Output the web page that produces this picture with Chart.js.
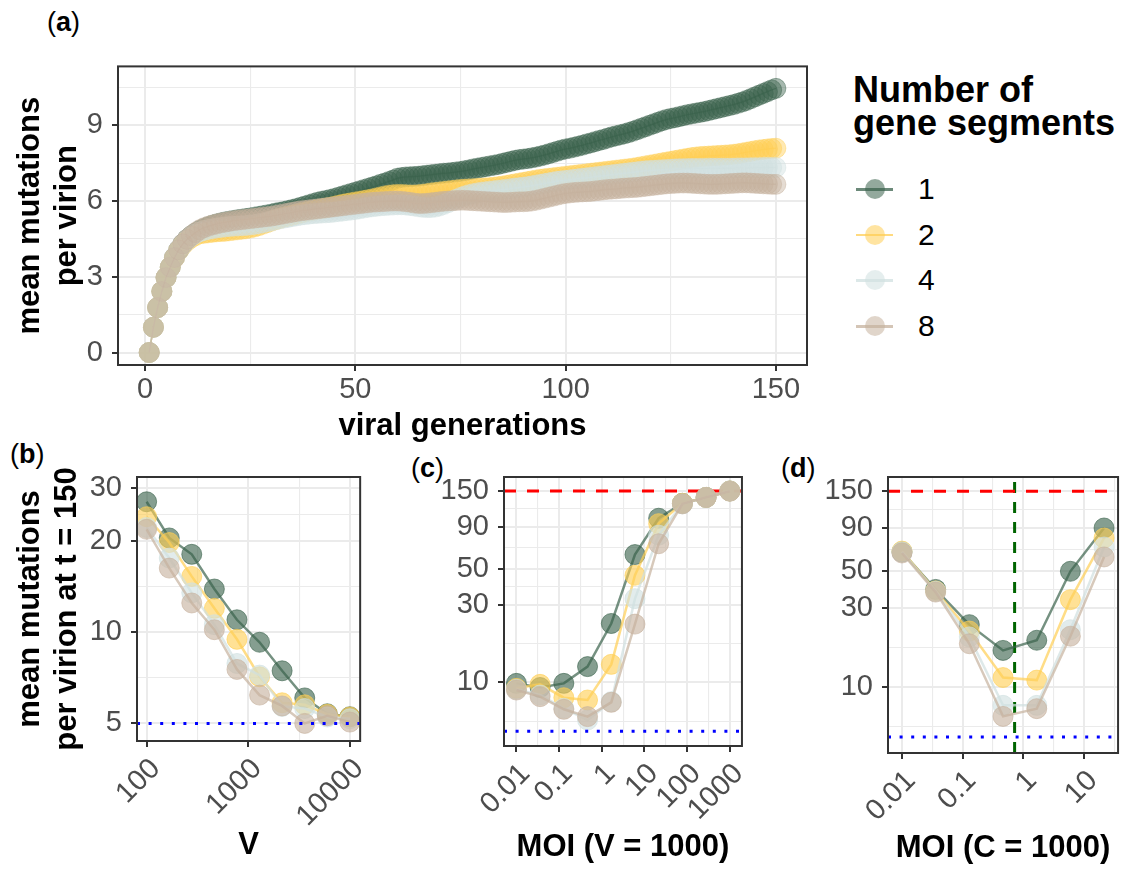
<!DOCTYPE html>
<html>
<head>
<meta charset="utf-8">
<script src="https://cdn.jsdelivr.net/npm/chart.js@4.4.1/dist/chart.umd.min.js"></script>
<style>
  html, body { margin: 0; padding: 0; background: #fff; overflow: hidden; width: 1137px; height: 869px; }
  body { position: relative; font-family: 'Liberation Sans', Arial, Helvetica, sans-serif; color: #000; }
  canvas { position: absolute; }
  .tag { position: absolute; font-size: 27px; line-height: 27px; }
  #legendTitle { position: absolute; left: 853px; top: 73px; font-size: 36px; line-height: 33px; font-weight: bold; white-space: nowrap; }
  .lrow { position: absolute; left: 856px; width: 120px; height: 30px; }
  .ldot { position: absolute; left: 9px; top: 5px; width: 20px; height: 20px; border-radius: 50%; }
  .lline { position: absolute; left: 0; top: 14px; width: 37px; height: 2.5px; }
  .ltext { position: absolute; left: 62px; top: 0; font-size: 30px; line-height: 30px; }
</style>
</head>
<body>
<div class="tag" style="left:47px;top:9px">(<b>a</b>)</div>
<div class="tag" style="left:10px;top:441px">(<b>b</b>)</div>
<div class="tag" style="left:411px;top:455px">(<b>c</b>)</div>
<div class="tag" style="left:781px;top:455px">(<b>d</b>)</div>
<div id="legendTitle">Number of<br>gene segments</div>

<canvas id="chartA" width="820" height="410" style="left:0;top:40px"></canvas>
<canvas id="chartB" width="380" height="429" style="left:0;top:440px"></canvas>
<canvas id="chartC" width="380" height="429" style="left:380px;top:440px"></canvas>
<canvas id="chartD" width="384" height="429" style="left:760px;top:440px"></canvas>

<script>
// ---- data ----
const segments = ['1', '2', '4', '8'];
const segmentColors = [[58, 98, 76], [255, 206, 84], [208, 224, 224], [198, 178, 158]];

// (a) mean mutations per virion over 150 generations
const generations = Array.from({ length: 150 }, (_, i) => i + 1);
const mutSeg1 = [
  0, 1.00, 1.78, 2.42, 2.97, 3.38, 3.76, 4.06, 4.30, 4.48,
  4.62, 4.73, 4.83, 4.91, 4.98, 5.04, 5.09, 5.13, 5.17, 5.20,
  5.23, 5.26, 5.28, 5.31, 5.33, 5.36, 5.39, 5.42, 5.45, 5.48,
  5.52, 5.55, 5.58, 5.62, 5.66, 5.70, 5.75, 5.80, 5.85, 5.90,
  5.95, 5.99, 6.02, 6.06, 6.10, 6.15, 6.20, 6.25, 6.30, 6.35,
  6.40, 6.45, 6.50, 6.55, 6.60, 6.66, 6.71, 6.77, 6.83, 6.90,
  6.93, 6.95, 6.96, 6.97, 6.98, 7.00, 7.02, 7.04, 7.06, 7.08,
  7.10, 7.11, 7.13, 7.15, 7.17, 7.20, 7.23, 7.27, 7.30, 7.33,
  7.36, 7.39, 7.42, 7.45, 7.49, 7.53, 7.57, 7.61, 7.64, 7.66,
  7.68, 7.71, 7.74, 7.78, 7.82, 7.87, 7.92, 7.97, 8.02, 8.06,
  8.09, 8.13, 8.17, 8.21, 8.26, 8.30, 8.35, 8.40, 8.44, 8.49,
  8.54, 8.58, 8.62, 8.66, 8.71, 8.76, 8.82, 8.88, 8.94, 9.00,
  9.06, 9.12, 9.18, 9.23, 9.27, 9.30, 9.34, 9.38, 9.42, 9.45,
  9.48, 9.51, 9.54, 9.58, 9.62, 9.66, 9.70, 9.74, 9.78, 9.82,
  9.87, 9.92, 9.98, 10.05, 10.12, 10.19, 10.26, 10.33, 10.40, 10.46
];
const mutSeg2 = [
  0, 1.00, 1.78, 2.42, 2.97, 3.38, 3.75, 4.04, 4.26, 4.42,
  4.54, 4.63, 4.70, 4.72, 4.74, 4.76, 4.78, 4.79, 4.80, 4.82,
  4.84, 4.86, 4.88, 4.90, 4.93, 4.97, 5.02, 5.08, 5.14, 5.20,
  5.26, 5.31, 5.36, 5.40, 5.44, 5.48, 5.52, 5.56, 5.60, 5.63,
  5.66, 5.69, 5.72, 5.75, 5.79, 5.83, 5.87, 5.90, 5.93, 5.96,
  5.99, 6.02, 6.05, 6.08, 6.12, 6.16, 6.20, 6.23, 6.25, 6.26,
  6.26, 6.25, 6.24, 6.24, 6.25, 6.27, 6.29, 6.32, 6.34, 6.36,
  6.38, 6.40, 6.42, 6.44, 6.46, 6.47, 6.48, 6.49, 6.50, 6.51,
  6.52, 6.53, 6.55, 6.57, 6.59, 6.62, 6.65, 6.68, 6.71, 6.74,
  6.77, 6.80, 6.83, 6.86, 6.88, 6.90, 6.92, 6.94, 6.96, 6.98,
  7.00, 7.02, 7.04, 7.06, 7.08, 7.10, 7.12, 7.14, 7.16, 7.18,
  7.20, 7.22, 7.24, 7.26, 7.28, 7.30, 7.33, 7.36, 7.39, 7.42,
  7.45, 7.48, 7.51, 7.54, 7.57, 7.60, 7.63, 7.66, 7.69, 7.72,
  7.74, 7.76, 7.77, 7.78, 7.79, 7.80, 7.81, 7.82, 7.83, 7.85,
  7.87, 7.90, 7.93, 7.96, 7.99, 8.02, 8.04, 8.06, 8.08, 8.09
];
const mutSeg4 = [
  0, 1.00, 1.78, 2.42, 2.97, 3.38, 3.76, 4.05, 4.28, 4.46,
  4.60, 4.70, 4.78, 4.83, 4.87, 4.90, 4.93, 4.95, 4.97, 4.99,
  5.00, 5.01, 5.02, 5.03, 5.05, 5.07, 5.10, 5.13, 5.17, 5.21,
  5.25, 5.29, 5.32, 5.35, 5.38, 5.41, 5.44, 5.46, 5.48, 5.50,
  5.51, 5.52, 5.53, 5.54, 5.56, 5.58, 5.60, 5.62, 5.64, 5.66,
  5.69, 5.72, 5.75, 5.77, 5.79, 5.81, 5.82, 5.83, 5.84, 5.85,
  5.85, 5.84, 5.82, 5.80, 5.77, 5.75, 5.74, 5.74, 5.76, 5.80,
  5.86, 5.93, 6.00, 6.07, 6.14, 6.20, 6.25, 6.29, 6.32, 6.35,
  6.37, 6.39, 6.41, 6.43, 6.45, 6.47, 6.49, 6.51, 6.53, 6.55,
  6.57, 6.60, 6.63, 6.66, 6.69, 6.72, 6.75, 6.78, 6.80, 6.82,
  6.84, 6.86, 6.88, 6.90, 6.92, 6.94, 6.96, 6.98, 7.00, 7.02,
  7.04, 7.06, 7.08, 7.10, 7.12, 7.14, 7.16, 7.18, 7.20, 7.21,
  7.22, 7.23, 7.24, 7.25, 7.26, 7.27, 7.28, 7.28, 7.29, 7.29,
  7.29, 7.29, 7.29, 7.30, 7.30, 7.30, 7.30, 7.30, 7.30, 7.30,
  7.31, 7.31, 7.31, 7.32, 7.32, 7.32, 7.33, 7.33, 7.33, 7.33
];
const mutSeg8 = [
  0, 1.00, 1.78, 2.42, 2.97, 3.38, 3.76, 4.06, 4.30, 4.48,
  4.62, 4.75, 4.86, 4.94, 5.00, 5.05, 5.09, 5.13, 5.16, 5.19,
  5.22, 5.24, 5.26, 5.28, 5.30, 5.32, 5.34, 5.36, 5.38, 5.40,
  5.43, 5.46, 5.49, 5.52, 5.55, 5.58, 5.61, 5.63, 5.65, 5.67,
  5.69, 5.71, 5.73, 5.75, 5.77, 5.79, 5.81, 5.83, 5.85, 5.87,
  5.89, 5.91, 5.93, 5.95, 5.96, 5.97, 5.98, 5.99, 6.00, 6.00,
  5.99, 5.97, 5.95, 5.92, 5.90, 5.90, 5.91, 5.93, 5.95, 5.97,
  5.99, 6.00, 6.01, 6.02, 6.03, 6.03, 6.02, 6.01, 6.00, 5.99,
  5.98, 5.97, 5.96, 5.95, 5.94, 5.94, 5.95, 5.96, 5.97, 5.97,
  5.98, 6.00, 6.03, 6.07, 6.11, 6.15, 6.19, 6.23, 6.27, 6.30,
  6.32, 6.34, 6.35, 6.36, 6.37, 6.38, 6.40, 6.42, 6.44, 6.46,
  6.47, 6.48, 6.50, 6.51, 6.52, 6.53, 6.54, 6.56, 6.58, 6.60,
  6.62, 6.64, 6.66, 6.68, 6.69, 6.70, 6.71, 6.71, 6.71, 6.70,
  6.69, 6.68, 6.67, 6.66, 6.66, 6.66, 6.67, 6.68, 6.69, 6.70,
  6.71, 6.72, 6.72, 6.71, 6.70, 6.69, 6.68, 6.67, 6.66, 6.66
];

// (b) mutations at t = 150 against population size V
const popSize = [100, 167, 278, 464, 774, 1292, 2154, 3594, 5995, 10000];
const bySizeSeg1 = [27.0, 20.5, 18.1, 13.9, 11.0, 9.27, 7.46, 6.07, 5.38, 5.26];
const bySizeSeg2 = [24.1, 19.8, 15.3, 12.0, 9.48, 7.13, 5.85, 5.76, 5.36, 5.25];
const bySizeSeg4 = [22.2, 17.6, 13.5, 10.6, 7.89, 7.22, 5.69, 5.60, 5.25, 5.18];
const bySizeSeg8 = [21.9, 16.3, 12.5, 10.2, 7.54, 6.20, 5.71, 5.00, 5.30, 5.05];

// (c) mutations against MOI, V = 1000
const moiV = [0.01, 0.0359, 0.129, 0.464, 1.67, 5.99, 21.5, 77.4, 278, 1000];
const moiVSeg1 = [9.86, 9.3, 9.86, 12.5, 23.0, 61.0, 102, 126, 137, 150];
const moiVSeg2 = [9.19, 9.72, 8.05, 7.79, 12.9, 45.5, 94.5, 126, 137, 150];
const moiVSeg4 = [9.06, 8.36, 6.93, 5.87, 7.61, 32.7, 80.3, 125, 137, 150];
const moiVSeg8 = [8.97, 8.17, 6.83, 6.16, 7.54, 22.8, 71.1, 125, 137, 149.5];

// (d) mutations against MOI, C = 1000
const moiC = [0.01, 0.0359, 0.129, 0.464, 1.67, 5.99, 21.5];
const moiCSeg1 = [64.9, 38.6, 23.7, 16.6, 19.1, 49.6, 90.3];
const moiCSeg2 = [65.6, 37.8, 21.7, 11.4, 11.0, 33.5, 78.6];
const moiCSeg4 = [64.9, 37.6, 20.0, 7.76, 7.76, 22.1, 69.4];
const moiCSeg8 = [63.9, 37.2, 18.2, 6.66, 7.41, 20.2, 60.5];
const moiCMarker = 0.72;

const genomeLength = 150;
const baseline = 5;

// ---- styling helpers ----
const fontFamily = "'Liberation Sans', Arial, Helvetica, sans-serif";
const tickFont = { family: fontFamily, size: 29 };
const titleFont = { family: fontFamily, size: 31, weight: 'bold', lineHeight: 1.2 };

function rgba(c, a) { return `rgba(${c[0]},${c[1]},${c[2]},${a})`; }

const panelBox = {
  id: 'panelBox',
  afterDatasetsDraw(chart) {
    const { ctx, chartArea: a } = chart;
    ctx.save();
    ctx.strokeStyle = '#333333';
    ctx.lineWidth = 2;
    ctx.strokeRect(a.left, a.top, a.right - a.left, a.bottom - a.top);
    ctx.restore();
  }
};

function makeAxis(o) {
  const tickValues = o.majors.concat(o.minors).sort((a, b) => a - b);
  const isMajor = v => o.majors.some(m => Math.abs(m - v) <= Math.abs(m) * 1e-6 + 1e-9);
  return {
    type: o.type,
    position: o.position,
    min: o.min,
    max: o.max,
    bounds: 'data',
    afterBuildTicks: scale => { scale.ticks = tickValues.map(v => ({ value: v })); },
    afterFit: scale => {
      if (o.position === 'left') scale.width = o.size;
      else scale.height = o.size;
    },
    border: { display: false },
    grid: {
      color: '#EBEBEB',
      lineWidth: c => (c.tick && isMajor(c.tick.value)) ? 2 : 1.1,
      drawTicks: true,
      tickLength: 6,
      tickWidth: 2,
      tickColor: c => (c.tick && isMajor(c.tick.value)) ? '#333333' : 'rgba(0,0,0,0)'
    },
    ticks: {
      autoSkip: false,
      font: tickFont,
      color: '#4D4D4D',
      padding: o.pad,
      minRotation: o.rot || 0,
      maxRotation: o.rot || 0,
      labelOffset: o.shift || 0,
      callback: v => isMajor(v) ? String(v) : ''
    },
    title: o.title
      ? { display: true, text: o.title, font: titleFont, color: '#000', padding: o.titlePad }
      : { display: false }
  };
}

function seriesSets(xs, ys, style) {
  return ys.map((vals, i) => ({
    data: xs.map((x, j) => ({ x: x, y: vals[j] })),
    showLine: true,
    borderColor: rgba(segmentColors[i], style.lineAlpha),
    borderWidth: style.lineWidth,
    pointRadius: 10,
    pointBackgroundColor: rgba(segmentColors[i], style.pointAlpha),
    pointBorderColor: rgba(segmentColors[i], style.pointAlpha),
    pointBorderWidth: 1,
    order: 10 - i
  }));
}

function refLine(points, color, dash, width, order) {
  return {
    data: points, showLine: true, borderColor: color, borderWidth: width,
    borderDash: dash, borderCapStyle: 'butt', pointRadius: 0, order: order
  };
}

function makeChart(id, datasets, xAxis, yAxis, padding) {
  return new Chart(document.getElementById(id), {
    type: 'scatter',
    data: { datasets: datasets },
    options: {
      responsive: false,
      animation: false,
      events: [],
      layout: { padding: padding },
      plugins: { legend: { display: false }, tooltip: { enabled: false } },
      scales: { x: xAxis, y: yAxis }
    },
    plugins: [panelBox]
  });
}

const smallStyle = { lineAlpha: 0.7, lineWidth: 2.5, pointAlpha: 0.62 };
const blueDots = (x0, x1) => refLine([{ x: x0, y: baseline }, { x: x1, y: baseline }], '#0000FF', [3, 8.6], 3, -1);
const redDash = (x0, x1) => refLine([{ x: x0, y: genomeLength }, { x: x1, y: genomeLength }], '#FF0000', [12, 11], 3, 20);

// ---- (a) ----
makeChart('chartA',
  seriesSets(generations, [mutSeg1, mutSeg2, mutSeg4, mutSeg8], { lineAlpha: 0.6, lineWidth: 1.5, pointAlpha: 0.45 }),
  makeAxis({ type: 'linear', position: 'bottom', min: -6.42, max: 157.4, majors: [0, 50, 100, 150], minors: [25, 75, 125],
    size: 85, pad: 2, title: 'viral generations', titlePad: { top: 0, bottom: 5 } }),
  makeAxis({ type: 'linear', position: 'left', min: -0.494, max: 11.33, majors: [0, 3, 6, 9], minors: [1.5, 4.5, 7.5, 10.5],
    size: 118, pad: 9, title: ['mean mutations', 'per virion'], titlePad: { top: 12, bottom: 0 } }),
  { left: 0, top: 14, right: 13, bottom: 0 });

// ---- (b) ----
makeChart('chartB',
  seriesSets(popSize, [bySizeSeg1, bySizeSeg2, bySizeSeg4, bySizeSeg8], smallStyle)
    .concat([blueDots(80.4, 12620)]),
  makeAxis({ type: 'logarithmic', position: 'bottom', min: 80.4, max: 12620, majors: [100, 1000, 10000], minors: [316.2, 3162],
    size: 128, pad: 5, rot: 45, shift: 9, title: 'V', titlePad: { top: 0, bottom: 5 } }),
  makeAxis({ type: 'logarithmic', position: 'left', min: 4.373, max: 32.6, majors: [5, 10, 20, 30], minors: [7.07, 14.14, 24.49],
    size: 137, pad: 9, title: ['mean mutations', 'per virion at t = 150'], titlePad: { top: 12, bottom: 0 } }),
  { left: 0, top: 37, right: 11, bottom: 0 });

// ---- (c) ----
makeChart('chartC',
  seriesSets(moiV, [moiVSeg1, moiVSeg2, moiVSeg4, moiVSeg8], smallStyle)
    .concat([redDash(0.00512, 1923), blueDots(0.00512, 1923)]),
  makeAxis({ type: 'logarithmic', position: 'bottom', min: 0.00512, max: 1923,
    majors: [0.01, 0.1, 1, 10, 100, 1000], minors: [0.0316, 0.316, 3.162, 31.62, 316.2],
    size: 123, pad: 5, rot: 45, shift: 9, title: 'MOI (V = 1000)', titlePad: { top: 0, bottom: 3 } }),
  makeAxis({ type: 'logarithmic', position: 'left', min: 4.064, max: 182.8, majors: [10, 30, 50, 90, 150],
    minors: [5.77, 17.32, 38.73, 67.08, 116.2], size: 124, pad: 9 }),
  { left: 0, top: 37, right: 7, bottom: 0 });

// ---- (d) ----
makeChart('chartD',
  seriesSets(moiC, [moiCSeg1, moiCSeg2, moiCSeg4, moiCSeg8], smallStyle)
    .concat([
      redDash(0.00588, 36.6),
      blueDots(0.00588, 36.6),
      refLine([{ x: moiCMarker, y: 4.012 }, { x: moiCMarker, y: 182.9 }], '#006400', [11, 9], 3, 20)
    ]),
  makeAxis({ type: 'logarithmic', position: 'bottom', min: 0.00588, max: 36.6,
    majors: [0.01, 0.1, 1, 10], minors: [0.0316, 0.316, 3.162, 31.62],
    size: 116, pad: 5, rot: 45, shift: 9, title: 'MOI (C = 1000)', titlePad: { top: 0, bottom: 2 } }),
  makeAxis({ type: 'logarithmic', position: 'left', min: 4.012, max: 182.9, majors: [10, 30, 50, 90, 150],
    minors: [5.77, 17.32, 38.73, 67.08, 116.2], size: 128, pad: 9 }),
  { left: 0, top: 37, right: 5, bottom: 0 });

// ---- legend ----
segments.forEach((s, i) => {
  const row = document.createElement('div');
  row.className = 'lrow';
  row.style.top = (174 + i * 45.7) + 'px';
  row.innerHTML = '<span class="ldot" style="background:' + rgba(segmentColors[i], 0.55) + '"></span>' +
    '<span class="lline" style="background:' + rgba(segmentColors[i], 0.75) + '"></span>' +
    '<span class="ltext">' + s + '</span>';
  document.body.appendChild(row);
});
</script>
</body>
</html>
